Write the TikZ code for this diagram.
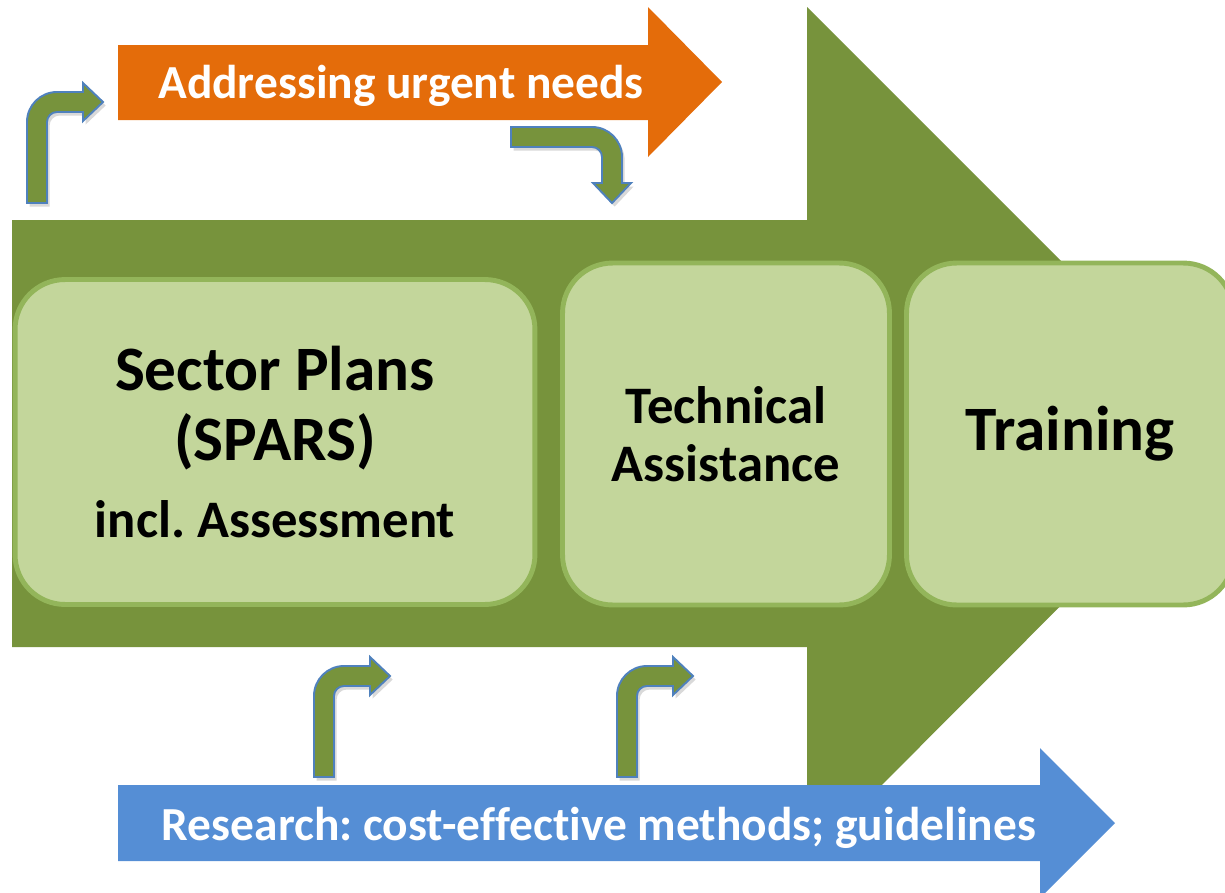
\documentclass[tikz,border=0pt]{standalone}
\usepackage{fontspec}
\setmainfont{Carlito}[Ligatures={NoCommon}]
\frenchspacing
\usetikzlibrary{shadows}
\definecolor{arrowgreen}{HTML}{77933C}
\definecolor{boxfill}{HTML}{C3D69B}
\definecolor{boxline}{HTML}{93B55A}
\definecolor{urgent}{HTML}{E46C0A}
\definecolor{research}{HTML}{558ED5}
\definecolor{bentline}{HTML}{4F81BD}
\tikzset{
  stage/.style={draw=boxline, line width=2.8pt, fill=boxfill, rounded corners=1cm, align=center, font=\bfseries},
  banner/.style={text=white, font=\bfseries\fontsize{27}{30}\selectfont, anchor=base},
  turnarrow/.style={fill=arrowgreen, draw=bentline, line width=1.1pt,
    drop shadow={opacity=.3, shadow xshift=1.5pt, shadow yshift=-2pt}},
  pics/bent/.style={code={
    \path[turnarrow] (0,0) -- (0,-81) arc[start angle=180, end angle=270, radius=30] -- (56,-111)
      -- (56,-120) -- (76,-101) -- (56,-82) -- (56,-91)
      -- (30,-91) arc[start angle=270, end angle=180, radius=10] -- (20,0) -- cycle;
  }},
}
\begin{document}
\begin{tikzpicture}[x=0.02cm, y=-0.02cm]
  \path[use as bounding box, clip] (0,0) rectangle (1225,893);
  % main arrow
  \fill[arrowgreen] (12,220) -- (807,220) -- (807,7) -- (1233,433) -- (807,860) -- (807,647) -- (12,647) -- cycle;
  % side arrows
  \fill[urgent] (118,45) -- (648,45) -- (648,7) -- (722,82) -- (648,157) -- (648,120) -- (118,120) -- cycle;
  \fill[research] (118,785) -- (1040,785) -- (1040,748) -- (1115,823) -- (1040,898) -- (1040,861) -- (118,861) -- cycle;
  \node[banner] (needs) at (401,98) {Addressing urgent needs};
  \node[banner] (methods) at (599,840) {Research: cost-effective methods; guidelines};
  % stages
  \node[stage, minimum width=10.4cm, minimum height=6.5cm, font=\bfseries\fontsize{36}{40}\selectfont] (plans) at (275,442)
    {Sector Plans\\(SPARS)\\[4pt]\fontsize{30}{36}\selectfont incl. Assessment};
  \node[stage, minimum width=6.54cm, minimum height=6.84cm, font=\bfseries\fontsize{30}{33}\selectfont] (assist) at (726,434)
    {Technical\\Assistance};
  \node[stage, minimum width=6.54cm, minimum height=6.84cm, font=\bfseries\fontsize{36}{40}\selectfont] (training) at (1070,434)
    {Training};
  % bent arrows
  \pic at (27,203) {bent};
  \pic[rotate=-90] at (511,127) {bent};
  \pic at (314,777) {bent};
  \pic at (617,777) {bent};
\end{tikzpicture}
\end{document}
